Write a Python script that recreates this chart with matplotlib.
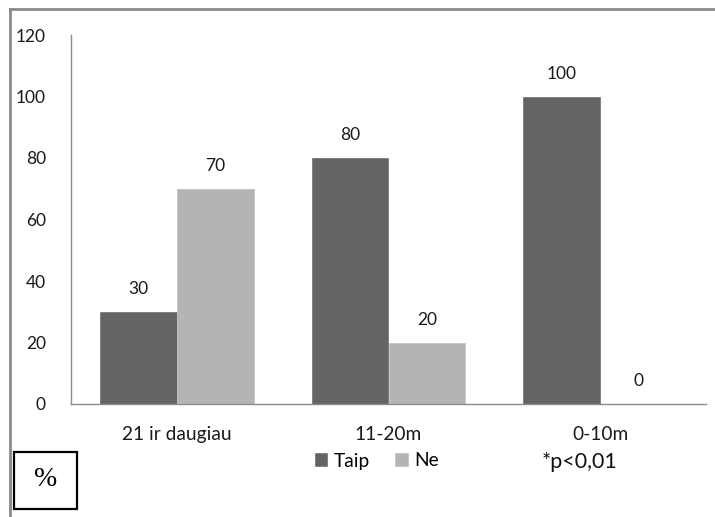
import matplotlib
matplotlib.use("Agg")
import matplotlib.pyplot as plt
import numpy as np
from matplotlib.lines import Line2D
from matplotlib.patches import Rectangle

categories = ["21 ir daugiau", "11-20m", "0-10m"]
series_names = ["Taip", "Ne"]
taip = [30, 80, 100]
ne = [70, 20, 0]
yticks = [0, 20, 40, 60, 80, 100, 120]

plt.rcParams['font.family'] = ['Lato', 'DejaVu Sans']

W, H = 715, 517
fig = plt.figure(figsize=(W / 100, H / 100), dpi=100)
ax = fig.add_axes([71 / W, 1 - 404 / H, (706 - 71) / W, (404 - 35) / H])

x = np.arange(len(categories))
bw = 0.363
c_dark = "#646464"
c_light = "#b4b4b4"
b1 = ax.bar(x - bw / 2, taip, bw, color=c_dark, edgecolor="#7a7a7a", linewidth=0.6, label=series_names[0])
b2 = ax.bar(x + bw / 2, ne, bw, color=c_light, edgecolor="#c4c4c4", linewidth=0.6, label=series_names[1])

for bars, vals in ((b1, taip), (b2, ne)):
    for r, v in zip(bars, vals):
        ax.annotate(f"{v}", (r.get_x() + r.get_width() / 2, v), xytext=(0, 16.5),
                    textcoords="offset points", ha="center", va="center", fontsize=12.5, color="#1a1a1a")

ax.set_xlim(-0.5, 2.5)
ax.set_ylim(0, 120)
ax.set_yticks(yticks)
ax.set_yticklabels([str(v) for v in yticks], fontsize=12.5)
ax.set_xticks(x)
ax.set_xticklabels(categories, fontsize=13.8)
ax.tick_params(axis="both", length=0, colors="#1a1a1a")
ax.tick_params(axis="y", pad=18)
ax.tick_params(axis="x", pad=16)
for s in ("top", "right"):
    ax.spines[s].set_visible(False)
for s in ("left", "bottom"):
    ax.spines[s].set_color("#8c8c8c")
    ax.spines[s].set_linewidth(1.0)

leg = fig.legend(handles=[b1, b2], labels=series_names, loc="center", ncol=2,
                 bbox_to_anchor=(377 / W, 1 - 461 / H), frameon=False, fontsize=13.8,
                 handlelength=0.65, handleheight=0.65, handletextpad=0.35, columnspacing=1.3)

fig.text(580 / W, 1 - 462 / H, "*p<0,01", ha="center", va="center", fontsize=15.5, color="#111111")

# percent box
fig.patches.append(Rectangle((14 / W, 1 - 509 / H), 63 / W, 57 / H, transform=fig.transFigure,
                             fill=False, edgecolor="black", linewidth=1.6))
fig.text(45.5 / W, 1 - 480 / H, "%", ha="center", va="center", fontsize=20,
         family=["Liberation Serif", "DejaVu Serif"], color="black")

# outer frame (top and left visible)
fig.add_artist(Line2D([10 / W, 10 / W], [0, 1 - 9 / H], transform=fig.transFigure, color="#8a8a8a", linewidth=2))
fig.add_artist(Line2D([10 / W, 1], [1 - 9 / H, 1 - 9 / H], transform=fig.transFigure, color="#8a8a8a", linewidth=2))

fig.savefig("out.png", dpi=100)
